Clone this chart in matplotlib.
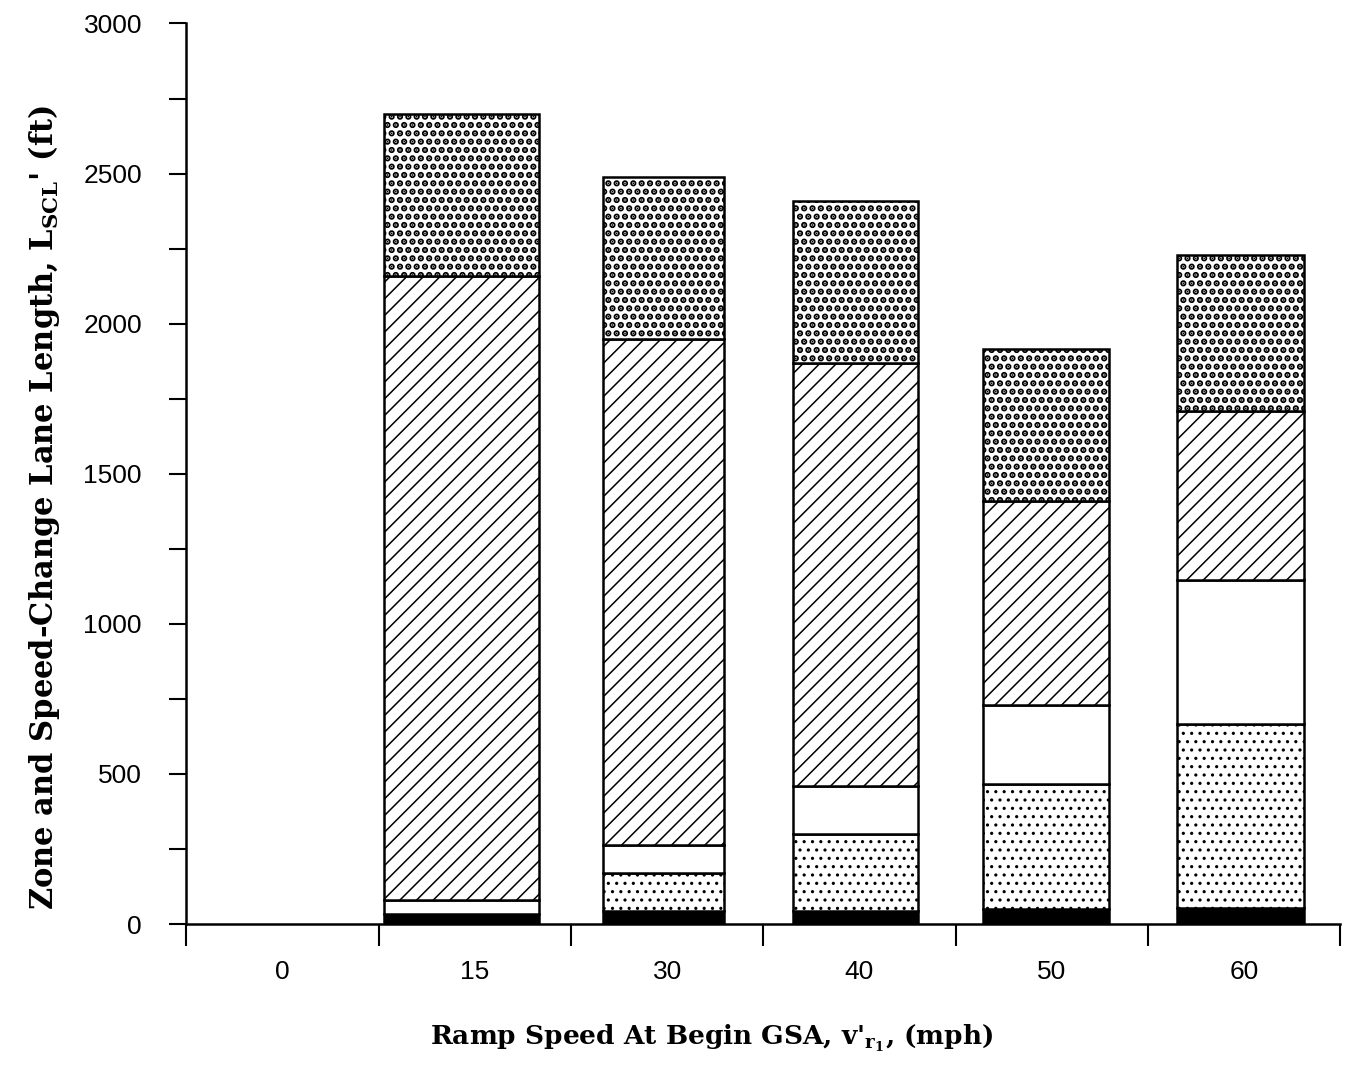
import numpy as np
import matplotlib
matplotlib.use('Agg')
from matplotlib import pyplot as plt

plt.rcParams['mathtext.fontset'] = 'custom'
plt.rcParams['mathtext.rm'] = 'DejaVu Serif:bold'
plt.rcParams['mathtext.it'] = 'DejaVu Serif:bold'
plt.rcParams['mathtext.bf'] = 'DejaVu Serif:bold'

# ramp speed categories (mph)
speeds = ['0', '15', '30', '40', '50', '60']

# stacked segment lengths (ft), bottom to top
solid = [0, 35, 45, 45, 50, 55]
light_dots = [0, 0, 125, 255, 415, 610]
blank = [0, 45, 93, 160, 265, 480]
hatched = [0, 2080, 1687, 1410, 680, 565]
dense_dots = [0, 540, 540, 540, 505, 520]

segments = [solid, light_dots, blank, hatched, dense_dots]

fig = plt.figure(figsize=(13.51, 10.67), dpi=100)
ax = fig.add_axes([0.138, 0.134, 0.854, 0.844])

x = np.arange(len(speeds))
widths = [0.65, 0.81, 0.63, 0.65, 0.66, 0.66]
offsets = [0, -0.07, -0.02, -0.02, -0.03, -0.02]
xpos = x + np.array(offsets)

styles = [
    dict(color='black', hatch=None, hlw=1.0),
    dict(color='white', hatch='..', hlw=1.1),
    dict(color='white', hatch=None, hlw=1.0),
    dict(color='white', hatch='//', hlw=1.1),
    dict(color='white', hatch='..', hlw=3.2),
]

bottom = np.zeros(len(speeds))
for seg, st in zip(segments, styles):
    vals = np.array(seg, dtype=float)
    bars = ax.bar(xpos, vals, widths, bottom=bottom, color=st['color'],
                  edgecolor='black', linewidth=1.8, hatch=st['hatch'])
    for b, v in zip(bars, vals):
        if v == 0:
            b.set_visible(False)
        if hasattr(b, 'set_hatch_linewidth'):
            b.set_hatch_linewidth(st['hlw'])
    bottom += vals

ax.set_xlim(-0.5, len(speeds) - 0.5)
ax.set_ylim(0, 3000)
ax.set_yticks(np.arange(0, 3001, 500))
ax.set_yticks(np.arange(250, 3000, 500), minor=True)
ax.set_xticks(np.arange(-0.5, len(speeds), 1.0))
ax.set_xticklabels([])
for i, s in enumerate(speeds):
    ax.text(i, -160, s, ha='center', va='center', fontsize=19,
            family='Liberation Sans')

for lab in ax.get_yticklabels():
    lab.set_family('Liberation Sans')
    lab.set_fontsize(19)

ax.spines['top'].set_visible(False)
ax.spines['right'].set_visible(False)
ax.spines['left'].set_linewidth(1.8)
ax.spines['bottom'].set_linewidth(1.8)
ax.tick_params(axis='y', which='both', direction='out', length=12, width=1.5, pad=20)
ax.tick_params(axis='x', which='major', direction='out', length=16, width=1.5)

ax.set_xlabel(r"Ramp Speed At Begin GSA, v'$_{\mathrm{r}_{\mathrm{1}}}$, (mph)",
              fontsize=19, family='DejaVu Serif', fontweight='bold')
ax.xaxis.set_label_coords(0.455, -0.110)
ax.set_ylabel(r"Zone and Speed-Change Lane Length, L$_{\mathrm{SCL}}$' (ft)",
              fontsize=22, family='DejaVu Serif', fontweight='bold')
ax.yaxis.set_label_coords(-0.108, 0.463)

fig.savefig('out.png', dpi=100)
